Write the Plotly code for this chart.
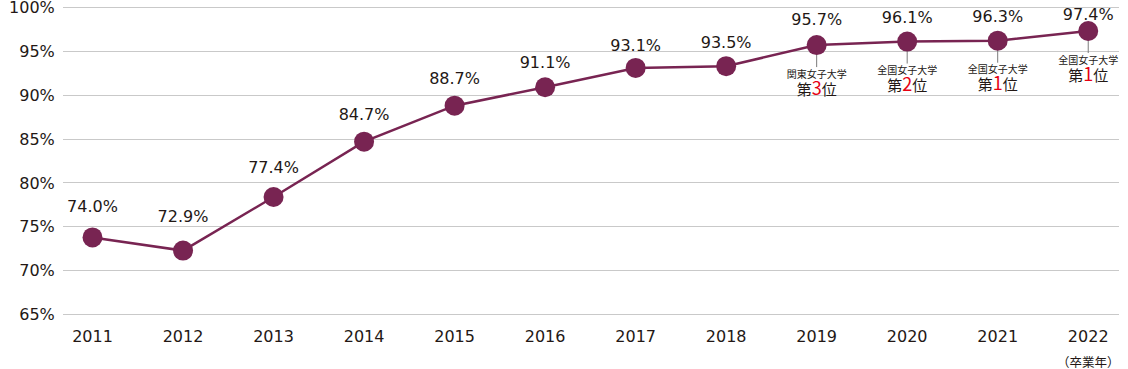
import plotly.graph_objects as go

years = ["2011", "2012", "2013", "2014", "2015", "2016", "2017", "2018", "2019", "2020", "2021", "2022"]
# plotted positions (%)
rates = [73.8, 72.3, 78.4, 84.7, 88.8, 90.9, 93.1, 93.3, 95.7, 96.1, 96.2, 97.3]
rate_labels = ["74.0%", "72.9%", "77.4%", "84.7%", "88.7%", "91.1%", "93.1%", "93.5%", "95.7%", "96.1%", "96.3%", "97.4%"]

rank_years = ["2019", "2020", "2021", "2022"]
rank_scope = ["関東女子大学", "全国女子大学", "全国女子大学", "全国女子大学"]
rank_num = ["3", "2", "1", "1"]

y_ticks = [65, 70, 75, 80, 85, 90, 95, 100]

# layout / style
label_offsets_px = [29, 33, 28, 26, 26, 23, 21, 22, 24, 23, 23, 15]
W, H = 1128, 369
M = dict(l=63, r=9, t=6, b=53, autoexpand=False)
Y_RANGE = [64.85, 100.15]
ppu = (H - M["t"] - M["b"]) / (Y_RANGE[1] - Y_RANGE[0])

LINE = "#782452"
TXT = "#231815"
RED = "#e60012"
LAT = "DejaVu Sans, Noto Sans CJK JP"
CJK = "Noto Sans CJK JP"

fig = go.Figure()

# thin leader lines under the ranked points
rate_by_year = dict(zip(years, rates))
lx, ly = [], []
for yr in rank_years:
    v = rate_by_year[yr]
    lx += [yr, yr, None]
    ly += [v, v - 22 / ppu, None]
fig.add_trace(go.Scatter(x=lx, y=ly, mode="lines", line=dict(color="#7a7a7a", width=1),
                         hoverinfo="skip", showlegend=False))

fig.add_trace(go.Scatter(
    x=years, y=rates, mode="lines+markers",
    line=dict(color=LINE, width=2.5),
    marker=dict(color=LINE, size=20),
    hoverinfo="skip", showlegend=False,
))

# value labels
fig.add_trace(go.Scatter(
    x=years, y=[v + o / ppu for v, o in zip(rates, label_offsets_px)],
    mode="text", text=rate_labels, textposition="middle center",
    textfont=dict(family=LAT, size=16, color=TXT),
    hoverinfo="skip", showlegend=False, cliponaxis=False,
))

# ranking labels
fig.add_trace(go.Scatter(
    x=rank_years, y=[rate_by_year[y] - 30 / ppu for y in rank_years],
    mode="text", text=rank_scope, textposition="middle center",
    textfont=dict(family=CJK, size=10, color=TXT),
    hoverinfo="skip", showlegend=False, cliponaxis=False,
))
fig.add_trace(go.Scatter(
    x=rank_years, y=[rate_by_year[y] - 46 / ppu for y in rank_years],
    mode="text",
    text=["第<span style='color:%s;font-size:18px'>%s</span>位" % (RED, n) for n in rank_num],
    textposition="middle center",
    textfont=dict(family=CJK, size=15, color=TXT),
    hoverinfo="skip", showlegend=False, cliponaxis=False,
))

fig.update_layout(
    width=W, height=H,
    margin=M,
    paper_bgcolor="white", plot_bgcolor="white",
    annotations=[dict(x=1, y=0, xref="paper", yref="paper", xanchor="right", yanchor="middle",
                      text="（卒業年）", showarrow=False, yshift=-45, xshift=3,
                      font=dict(family=CJK, size=12.5, color=TXT))],
    xaxis=dict(type="category", categoryorder="array", categoryarray=years,
               range=[-0.326, 11.34], showgrid=False, zeroline=False, automargin=False,
               showline=False, ticks="outside", ticklen=6, tickcolor="rgba(0,0,0,0)",
               tickfont=dict(family=LAT, size=16, color=TXT)),
    yaxis=dict(range=Y_RANGE, tickmode="array", tickvals=y_ticks,
               ticktext=[f"{t}%" for t in y_ticks], showgrid=True, automargin=False,
               gridcolor="#c9c9c9", gridwidth=1, zeroline=False, showline=False,
               ticks="outside", ticklen=4, tickcolor="rgba(0,0,0,0)",
               ticklabeloverflow="allow",
               tickfont=dict(family=LAT, size=16, color=TXT)),
)

fig.write_html("out.html", config={"displayModeBar": False},
               post_script="document.body.style.margin='0px';")
